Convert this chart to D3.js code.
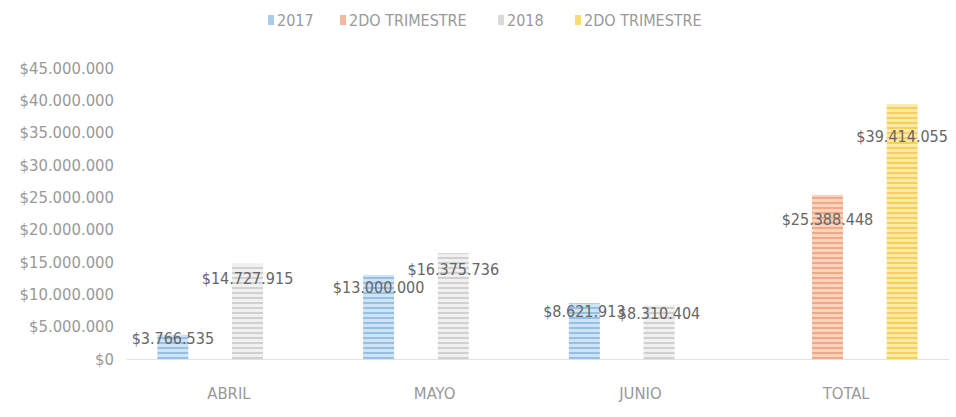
<!DOCTYPE html>
<html>
<head>
<meta charset="utf-8">
<script src="https://cdn.jsdelivr.net/npm/d3@7/dist/d3.min.js"></script>
<style>
  html, body { margin: 0; padding: 0; background: #ffffff; }
  svg { display: block; }
  text { font-family: "DejaVu Sans Condensed", "Liberation Sans Narrow", "Liberation Sans", sans-serif; }
</style>
</head>
<body>
<script>
const categories = ["ABRIL", "MAYO", "JUNIO", "TOTAL"];
const seriesNames = ["2017", "2DO TRIMESTRE", "2018", "2DO TRIMESTRE"];
const values2017 = [3766535, 13000000, 8621913, null];
const valuesTrim2017 = [null, null, null, 25388448];
const values2018 = [14727915, 16375736, 8310404, null];
const valuesTrim2018 = [null, null, null, 39414055];
const yTicks = [0, 5000000, 10000000, 15000000, 20000000, 25000000, 30000000, 35000000, 40000000, 45000000];

const seriesValues = [values2017, valuesTrim2017, values2018, valuesTrim2018];
const baseColors = ["#cfe3f5", "#fad3bf", "#f0f0f0", "#fdeaa6"];
const stripeColors = ["#94bfe6", "#f0a886", "#d0d0d0", "#f7cf5a"];

const W = 956, H = 417;
const margin = { top: 68, right: 7, bottom: 58, left: 126 };

const svg = d3.select("body").append("svg").attr("width", W).attr("height", H);

const defs = svg.append("defs");
seriesValues.forEach((_, i) => {
  const p = defs.append("pattern")
    .attr("id", "pat" + i)
    .attr("patternUnits", "userSpaceOnUse")
    .attr("width", 8).attr("height", 5);
  p.append("rect").attr("width", 8).attr("height", 5).attr("fill", baseColors[i]);
  p.append("rect").attr("y", 2).attr("width", 8).attr("height", 2).attr("fill", stripeColors[i]);
});

const x0 = d3.scaleBand().domain(categories)
  .range([margin.left, W - margin.right]).paddingInner(0.243).paddingOuter(0.1215);
const x1 = d3.scaleBand().domain(d3.range(4)).range([0, x0.bandwidth()]).padding(0.17);
const y = d3.scaleLinear().domain([0, 45000000]).range([H - margin.bottom, margin.top]);

const fmt = v => "$" + d3.format(",")(v).replace(/,/g, ".");

// y axis labels
const yAxis = d3.axisLeft(y).tickValues(yTicks).tickFormat(fmt).tickSize(0).tickPadding(12);
const gy = svg.append("g").attr("transform", `translate(${margin.left},0)`).call(yAxis);
gy.select(".domain").remove();
gy.selectAll("text").attr("fill", "#999999").style("font-size", "16.5px");

// baseline
const xAxis = d3.axisBottom(x0).tickSize(0).tickPadding(28);
const gx = svg.append("g").attr("transform", `translate(0,${y(0)})`).call(xAxis);
gx.select(".domain").attr("stroke", "#e2e2e2");
gx.selectAll("text").attr("fill", "#999999").style("font-size", "16.5px");

// bars
const groups = svg.append("g").selectAll("g").data(categories).join("g")
  .attr("transform", d => `translate(${x0(d)},0)`);

groups.each(function(cat, ci) {
  const g = d3.select(this);
  seriesValues.forEach((vals, si) => {
    const v = vals[ci];
    if (v == null) return;
    g.append("rect")
      .attr("x", x1(si))
      .attr("y", y(v))
      .attr("width", x1.bandwidth())
      .attr("height", y(0) - y(v))
      .attr("fill", `url(#pat${si})`);
  });
});

// labels
groups.each(function(cat, ci) {
  const g = d3.select(this);
  seriesValues.forEach((vals, si) => {
    const v = vals[ci];
    if (v == null) return;
    const h = y(0) - y(v);
    g.append("text")
      .attr("x", x1(si) + x1.bandwidth() / 2)
      .attr("y", y(v) + Math.min(32, h * 0.15))
      .attr("dy", "0.35em")
      .attr("text-anchor", "middle")
      .attr("fill", "#666666")
      .style("font-size", "16px")
      .text(fmt(v));
  });
});

// legend
const legendX = [268, 340, 498, 575];
const legend = svg.append("g");
seriesNames.forEach((name, i) => {
  const lg = legend.append("g").attr("transform", `translate(${legendX[i]},20)`);
  lg.append("rect").attr("x", 0).attr("y", -5).attr("width", 6).attr("height", 10)
    .attr("fill", stripeColors[i]).attr("opacity", 0.8);
  lg.append("text").attr("x", 9).attr("dy", "0.35em")
    .attr("fill", "#999999").style("font-size", "16px").text(name);
});
</script>
</body>
</html>
